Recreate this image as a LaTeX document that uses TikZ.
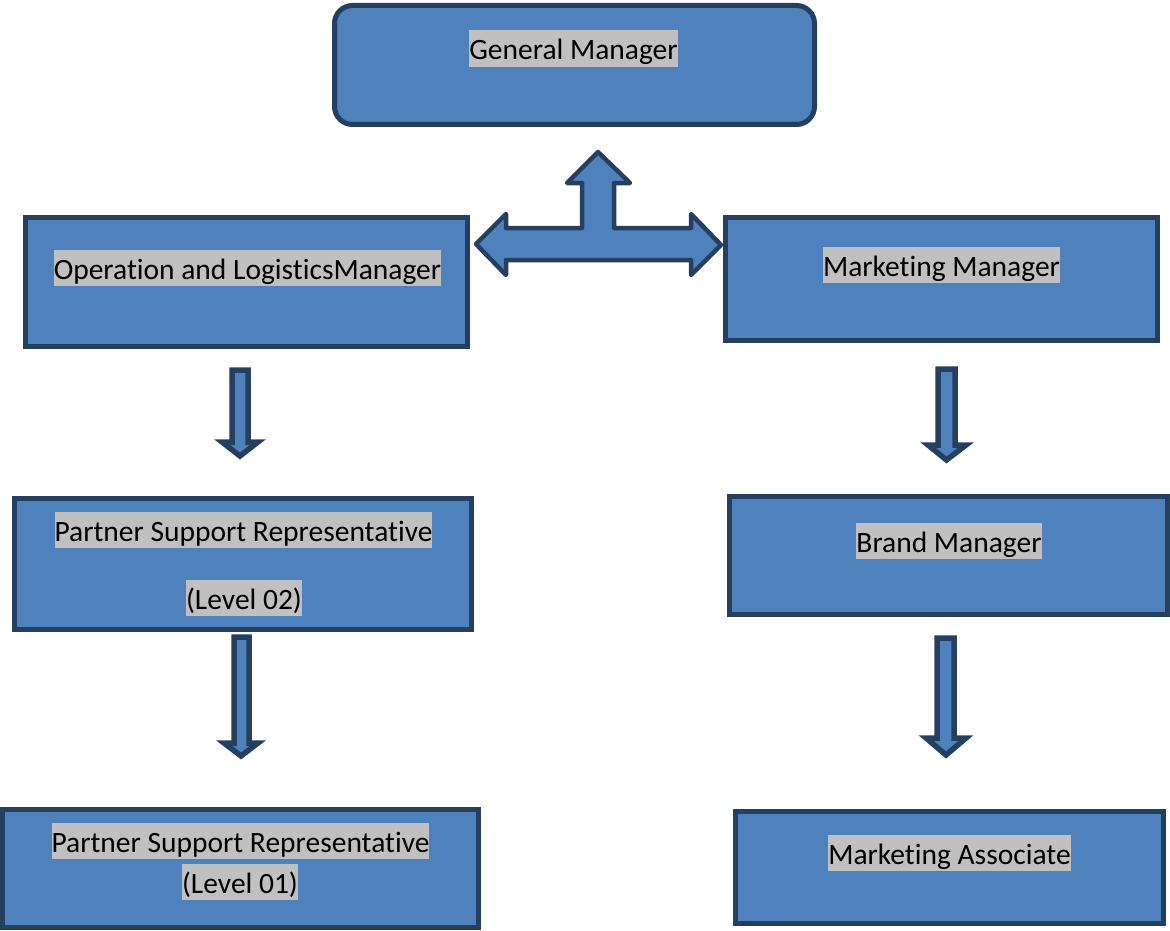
\documentclass[tikz,border=0pt]{standalone}
\usepackage{fontspec}
\setmainfont{Carlito}[RawFeature={-liga;-clig;-dlig}]
\definecolor{boxfill}{HTML}{4F81BD}
\definecolor{boxline}{HTML}{243F60}
\definecolor{hilite}{HTML}{C0C0C0}
\begin{document}
\begin{tikzpicture}[x=1pt,y=-1pt,
  box/.style={draw=boxline,fill=boxfill,line width=5pt,rectangle,inner sep=0pt},
  lbl/.style={fill=hilite,inner sep=0pt,text height=29.5pt,text depth=7pt,anchor=base,
    font=\fontsize{29.5pt}{36pt}\selectfont,text=black},
  blockarrow/.style={draw=boxline,fill=boxfill,line width=5.5pt,miter limit=10},
  tarrow/.style={draw=boxline,fill=boxfill,line width=4.5pt,line join=round}]
\useasboundingbox (0,0) rectangle (1170,931);
% boxes
\node[box,rounded corners=18pt,minimum width=480pt,minimum height=119pt] (gm) at (574.5,65) {};
\node[box,minimum width=442pt,minimum height=129pt] (ops) at (246.5,282) {};
\node[box,minimum width=432pt,minimum height=123pt] (mm) at (941.5,279) {};
\node[box,minimum width=457pt,minimum height=131pt] (psr2) at (243,564) {};
\node[box,minimum width=438pt,minimum height=118pt] (bm) at (948.5,555.5) {};
\node[box,minimum width=476pt,minimum height=118pt] (psr1) at (240.5,868.5) {};
\node[box,minimum width=428pt,minimum height=112pt] (ma) at (949.5,867.5) {};
% labels
\node[lbl] (gmt) at (573.5,60) {General Manager};
\node[lbl] (opst) at (247.5,279) {Operation and LogisticsManager};
\node[lbl] (mmt) at (941.5,276) {Marketing Manager};
\node[lbl] (psr2a) at (243.5,541) {Partner Support Representative};
\node[lbl] (psr2b) at (244,609) {(Level 02)};
\node[lbl] (bmt) at (949,552) {Brand Manager};
\node[lbl] (psr1a) at (240.5,852) {Partner Support Representative};
\node[lbl] (psr1b) at (240,893) {(Level 01)};
\node[lbl] (mat) at (949.5,864) {Marketing Associate};
% three-way arrow
\draw[tarrow] (476,244) -- (506,214) -- (506,228) -- (582,228) -- (582,183) -- (567,183)
  -- (598,152) -- (630,183) -- (614,183) -- (614,228) -- (691,228) -- (691,214)
  -- (721,245) -- (691,275) -- (691,260) -- (506,260) -- (506,275) -- cycle;
% down arrows
\draw[blockarrow] (232,370) -- (248,370) -- (248,442) -- (258,442) -- (240,456)
  -- (222,442) -- (232,442) -- cycle;
\draw[blockarrow] (938,369) -- (955,369) -- (955,445) -- (966,445) -- (946.5,460)
  -- (928,445) -- (938,445) -- cycle;
\draw[blockarrow] (234,637) -- (249,637) -- (249,743) -- (258,743) -- (241,756)
  -- (224,743) -- (234,743) -- cycle;
\draw[blockarrow] (937,638) -- (954,638) -- (954,738) -- (966,738) -- (946,755)
  -- (926,738) -- (937,738) -- cycle;
\end{tikzpicture}
\end{document}
